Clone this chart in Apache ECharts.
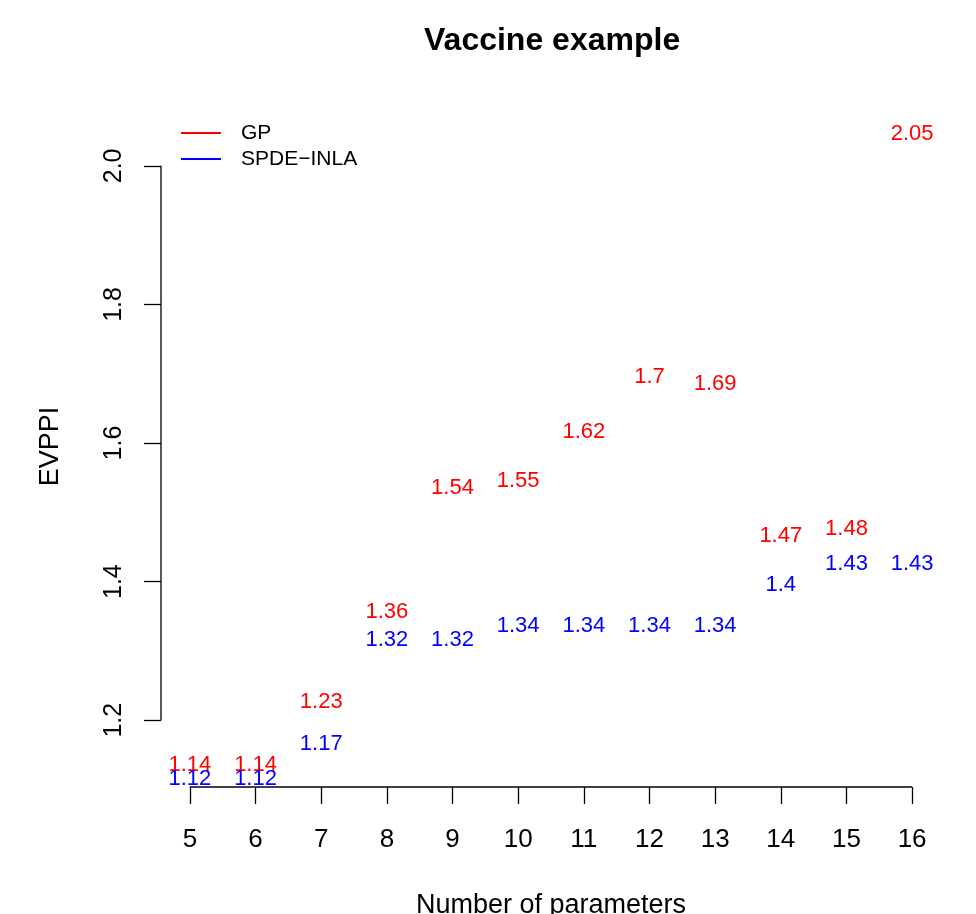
<!DOCTYPE html>
<html>
<head>
<meta charset="utf-8">
<script src="https://cdn.jsdelivr.net/npm/echarts@6/dist/echarts.min.js"></script>
<style>
html,body{margin:0;padding:0;background:#fff;}
#main{width:976px;height:914px;}
</style>
</head>
<body>
<div id="main"></div>
<script>
// ---- data ----
const params = [5, 6, 7, 8, 9, 10, 11, 12, 13, 14, 15, 16];
const gpValues = [1.14, 1.14, 1.23, 1.36, 1.54, 1.55, 1.62, 1.7, 1.69, 1.47, 1.48, 2.05];
const spdeValues = [1.12, 1.12, 1.17, 1.32, 1.32, 1.34, 1.34, 1.34, 1.34, 1.4, 1.43, 1.43];
const xTicks = [5, 6, 7, 8, 9, 10, 11, 12, 13, 14, 15, 16];
const yTicks = [1.2, 1.4, 1.6, 1.8, 2.0];
const seriesNames = ['GP', 'SPDE\u2212INLA'];

// R-style 4% axis extension
const xLo = Math.min(...params), xHi = Math.max(...params);
const yLo = Math.min(...gpValues), yHi = Math.max(...gpValues);
const xMin = xLo - 0.04 * (xHi - xLo), xMax = xHi + 0.04 * (xHi - xLo);
const yMin = yLo - 0.04 * (yHi - yLo), yMax = yHi + 0.04 * (yHi - yLo);

const FONT = "'Liberation Sans', Arial, Helvetica, sans-serif";

function labelSeries(name, values, color) {
  return {
    name: name,
    type: 'scatter',
    data: params.map((p, i) => [p, values[i]]),
    symbolSize: 0,
    itemStyle: { color: color, opacity: 1 },
    label: {
      show: true,
      position: 'inside',
      offset: [0, 3],
      formatter: (d) => String(d.value[1]),
      color: color,
      opacity: 1,
      textBorderWidth: 0,
      textBorderColor: 'transparent',
      fontSize: 22,
      fontFamily: FONT
    },
    emphasis: { disabled: true },
    silent: true,
    z: 5
  };
}

const chart = echarts.init(document.getElementById('main'), null, { renderer: 'canvas' });
chart.setOption({
  animation: false,
  backgroundColor: '#ffffff',
  title: {
    text: 'Vaccine example',
    left: 424,
    top: 25,
    padding: 0,
    textStyle: { fontSize: 32, fontWeight: 'bold', color: '#000', fontFamily: FONT }
  },
  legend: {
    data: seriesNames,
    orient: 'vertical',
    left: 181,
    top: 122,
    padding: 0,
    itemGap: 4,
    itemWidth: 40,
    itemHeight: 2,
    icon: 'rect',
    textStyle: { fontSize: 21, color: '#000', fontFamily: FONT, padding: [0, 0, 0, 15], lineHeight: 22 },
    selectedMode: false
  },
  grid: { left: 161, right: 35, top: 106, bottom: 127, containLabel: false, outerBoundsMode: 'none' },
  xAxis: {
    type: 'value',
    min: xMin,
    max: xMax,
    name: 'Number of parameters',
    nameLocation: 'middle',
    nameGap: 105,
    nameTextStyle: { fontSize: 27, color: '#000', fontFamily: FONT },
    axisLine: { show: false },
    splitLine: { show: false },
    axisTick: { show: true, customValues: xTicks, length: 17, lineStyle: { color: '#000', width: 1.3 } },
    axisLabel: { show: true, customValues: xTicks, fontSize: 26, color: '#000', margin: 40, fontFamily: FONT }
  },
  yAxis: {
    type: 'value',
    min: yMin,
    max: yMax,
    name: 'EVPPI',
    nameLocation: 'middle',
    nameGap: 97,
    nameRotate: 90,
    nameTextStyle: { fontSize: 27, color: '#000', fontFamily: FONT },
    axisLine: { show: false },
    splitLine: { show: false },
    axisTick: { show: true, customValues: yTicks, length: 17, lineStyle: { color: '#000', width: 1.3 } },
    axisLabel: { show: true, customValues: yTicks, rotate: 90, fontSize: 25, color: '#000', margin: 34, fontFamily: FONT,
      formatter: (v) => Number(v).toFixed(1) }
  },
  series: [
    labelSeries(seriesNames[0], gpValues, '#ff0000'),
    labelSeries(seriesNames[1], spdeValues, '#0000ff'),
    {
      name: 'xAxisLine', type: 'line', silent: true, symbol: 'none',
      data: [[xTicks[0], yMin], [xTicks[xTicks.length - 1], yMin]],
      lineStyle: { color: '#000', width: 1.3 }, clip: false, z: 3
    },
    {
      name: 'yAxisLine', type: 'line', silent: true, symbol: 'none',
      data: [[xMin, yTicks[0]], [xMin, yTicks[yTicks.length - 1]]],
      lineStyle: { color: '#000', width: 1.3 }, clip: false, z: 3
    }
  ]
});
</script>
</body>
</html>
